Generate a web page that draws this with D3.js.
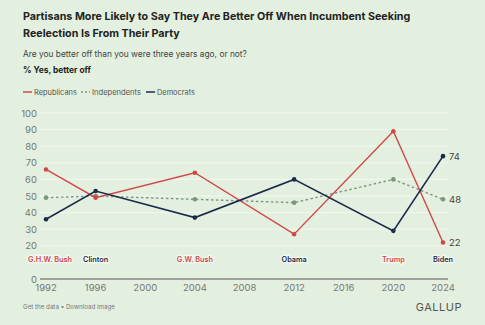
<!DOCTYPE html>
<html>
<head>
<meta charset="utf-8">
<script src="https://cdn.jsdelivr.net/npm/d3@7"></script>
<style>
  body { margin: 0; background: #e3f0df; }
  text { font-family: Inter, "Noto Sans", sans-serif; }
</style>
</head>
<body>
<script>
const width = 485;
const height = 325;

// data
const years = [1992, 1996, 2004, 2012, 2020, 2024];
const republicans = [66, 49, 64, 27, 89, 22];
const independents = [49, 50, 48, 46, 60, 48];
const democrats = [36, 53, 37, 60, 29, 74];
const yTicks = [0, 20, 30, 40, 50, 60, 70, 80, 90, 100];
const xTicks = [1992, 1996, 2000, 2004, 2008, 2012, 2016, 2020, 2024];
const presidents = [
    { year: 1992, name: 'G.H.W. Bush', party: 'R' },
    { year: 1996, name: 'Clinton', party: 'D' },
    { year: 2004, name: 'G.W. Bush', party: 'R' },
    { year: 2012, name: 'Obama', party: 'D' },
    { year: 2020, name: 'Trump', party: 'R' },
    { year: 2024, name: 'Biden', party: 'D' }
];

const colors = { R: '#d0484a', I: '#7a977b', D: '#1b2b4b' };

const svg = d3.select('body').append('svg').attr('width', width).attr('height', height);

svg.append('rect').attr('width', width).attr('height', height).attr('fill', '#e3f0df');

// shrink a text's font until it fits the width seen in the reference
function fit(sel, w) {
    const len = sel.node().getComputedTextLength();
    const fs = +sel.attr('font-size');
    sel.attr('font-size', fs * w / len);
    return sel;
}

// titles
fit(svg.append('text').attr('x', 23).attr('y', 20).attr('font-size', 13).attr('font-weight', 700).attr('fill', '#222')
    .text('Partisans More Likely to Say They Are Better Off When Incumbent Seeking'), 388);
fit(svg.append('text').attr('x', 23).attr('y', 37).attr('font-size', 13).attr('font-weight', 700).attr('fill', '#222')
    .text('Reelection Is From Their Party'), 157);

fit(svg.append('text').attr('x', 23).attr('y', 57).attr('font-size', 10).attr('fill', '#444')
    .text('Are you better off than you were three years ago, or not?'), 224);
fit(svg.append('text').attr('x', 23).attr('y', 73).attr('font-size', 10).attr('font-weight', 700).attr('fill', '#222')
    .text('% Yes, better off'), 68);

// legend
const legend = [
    { label: 'Republicans', color: colors.R, dash: null, x: 23, w: 43 },
    { label: 'Independents', color: colors.I, dash: '2,2', x: 81, w: 49 },
    { label: 'Democrats', color: colors.D, dash: null, x: 146, w: 38 }
];
legend.forEach(l => {
    svg.append('line').attr('x1', l.x).attr('x2', l.x + 9).attr('y1', 92).attr('y2', 92)
        .attr('stroke', l.color).attr('stroke-width', 1.5).attr('stroke-dasharray', l.dash);
    fit(svg.append('text').attr('x', l.x + 11).attr('y', 95).attr('font-size', 8).attr('fill', '#555').text(l.label), l.w);
});

// scales
const x = d3.scaleLinear().domain([1992, 2024]).range([46, 443]);
const y = d3.scaleLinear().domain([0, 100]).range([279, 113]);

// grid
svg.append('g').selectAll('line')
    .data(yTicks.filter(d => d > 0))
    .enter().append('line')
    .attr('x1', 40).attr('x2', 448)
    .attr('y1', d => y(d)).attr('y2', d => y(d))
    .attr('stroke', '#f2f8ef').attr('stroke-width', 1);

svg.append('g').selectAll('text')
    .data(yTicks)
    .enter().append('text')
    .attr('x', 37).attr('y', d => y(d) + 3.5)
    .attr('text-anchor', 'end').attr('font-size', 9.5).attr('fill', '#777')
    .text(d => d);

// x axis
svg.append('line').attr('x1', 40).attr('x2', 448).attr('y1', y(0)).attr('y2', y(0))
    .attr('stroke', '#555').attr('stroke-width', 1);
svg.append('g').selectAll('text')
    .data(xTicks)
    .enter().append('text')
    .attr('x', d => x(d)).attr('y', 291)
    .attr('text-anchor', 'middle').attr('font-size', 9.5).attr('fill', '#777')
    .text(d => d);

// president labels
svg.append('g').selectAll('text')
    .data(presidents)
    .enter().append('text')
    .attr('x', d => x(d.year) + (d.year === 1992 ? 4 : 0)).attr('y', y(10.5))
    .attr('text-anchor', 'middle').attr('font-size', 7.3).attr('font-weight', 600)
    .attr('fill', d => colors[d.party])
    .attr('stroke', '#f4f9f2').attr('stroke-width', 2.5).attr('paint-order', 'stroke')
    .text(d => d.name);

// lines
const line = d3.line().x((d, i) => x(years[i])).y(d => y(d));
const series = [
    { values: independents, color: colors.I, dash: '2.5,2.5', width: 1.4 },
    { values: republicans, color: colors.R, dash: null, width: 1.4 },
    { values: democrats, color: colors.D, dash: null, width: 1.6 }
];
series.forEach(s => {
    svg.append('path').attr('d', line(s.values)).attr('fill', 'none')
        .attr('stroke', s.color).attr('stroke-width', s.width).attr('stroke-dasharray', s.dash);
    svg.append('g').selectAll('circle')
        .data(s.values)
        .enter().append('circle')
        .attr('cx', (d, i) => x(years[i])).attr('cy', d => y(d)).attr('r', 2.3)
        .attr('fill', s.color);
    const last = s.values[s.values.length - 1];
    svg.append('text').attr('x', x(2024) + 6).attr('y', y(last) + 3.5)
        .attr('font-size', 9.5).attr('fill', '#444').text(last);
});

// footer
fit(svg.append('text').attr('x', 23).attr('y', 309).attr('font-size', 7.5).attr('fill', '#777')
    .text('Get the data • Download image'), 92);
svg.append('text').attr('x', 462).attr('y', 311).attr('text-anchor', 'end')
    .attr('font-family', '"Liberation Serif", "DejaVu Serif", serif').attr('font-size', 11).attr('fill', '#555')
    .attr('letter-spacing', 0.5).text('GALLUP');
</script>
</body>
</html>
